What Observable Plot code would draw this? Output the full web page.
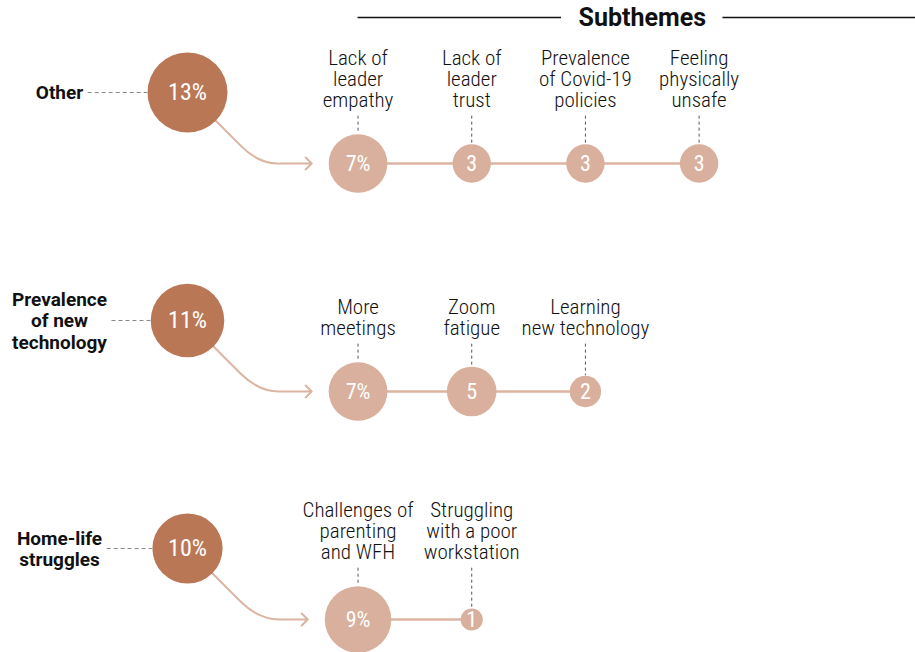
<!DOCTYPE html>
<html>
<head>
<meta charset="utf-8">
<script src="https://cdn.jsdelivr.net/npm/d3@7"></script>
<script src="https://cdn.jsdelivr.net/npm/@observablehq/plot@0.6"></script>
<style>
  html, body { margin: 0; padding: 0; background: #fff; }
  #chart svg { display: block; }
  #chart g[aria-description="cond"] { font-stretch: condensed; }
</style>
</head>
<body>
<div id="chart"></div>
<script>
// ---------- data ----------
const themes = ["Other", "Prevalence of new technology", "Home-life struggles"];
const themeLabels = ["Other", "Prevalence\nof new\ntechnology", "Home-life\nstruggles"];
const themeValues = [13, 11, 10];

const subthemeLabels = [
  ["Lack of\nleader\nempathy", "Lack of\nleader\ntrust", "Prevalence\nof Covid-19\npolicies", "Feeling\nphysically\nunsafe"],
  ["More\nmeetings", "Zoom\nfatigue", "Learning\nnew technology"],
  ["Challenges of\nparenting\nand WFH", "Struggling\nwith a poor\nworkstation"]
];
const subthemeValues = [
  [7, 3, 3, 3],
  [7, 5, 2],
  [9, 1]
];
const headerTitle = "Subthemes";

// ---------- layout helpers ----------
const FONT = 'Roboto, "Open Sans", sans-serif';
const W = 915, H = 652;
const xDomain = [0, 4.5], xRange = [187, 698.6];
const yDomain = [0, 2], yRange = [92, 548];
const rDomain = [0, 13], rRange = [0, 40];
const xPx = d3.scaleLinear(xDomain, xRange);
const yPx = d3.scaleLinear(yDomain, yRange);
const rPx = d3.scaleSqrt(rDomain, rRange);
const ux = px => xPx.invert(px) - xPx.invert(0);
const uy = px => yPx.invert(px) - yPx.invert(0);

const SUB_COL0 = 1.5;          // first subtheme column
const SUB_DY = uy(71);         // subtheme row offset below main circle
const LABEL_COL = xPx.invert(59);

const ctx = document.createElement("canvas").getContext("2d");
function halfWidth(label, font) {
  ctx.font = font;
  return d3.max(label.split("\n"), s => ctx.measureText(s).width) / 2;
}

const mains = themes.map((t, i) => ({
  theme: t, label: themeLabels[i], value: themeValues[i], row: i, col: 0,
  text: themeValues[i] + "%"
}));

const subs = [];
subthemeLabels.forEach((labels, i) => {
  const rMax = rPx(d3.max(subthemeValues[i]));
  labels.forEach((l, j) => {
    const v = subthemeValues[i][j];
    const y = i + SUB_DY;
    const labelY = y - uy(rMax + 27);
    subs.push({row: i, col: SUB_COL0 + j, y, labelY, label: l, value: v, text: j === 0 ? v + "%" : String(v)});
  });
});

const connectors = subthemeLabels.map((labels, i) => ({
  y: i + SUB_DY, x1: SUB_COL0, x2: SUB_COL0 + labels.length - 1
}));

const themeDashes = mains.map(d => ({
  y: d.row,
  x1: LABEL_COL + ux(halfWidth(d.label, `bold 19px ${FONT}`) + 5),
  x2: d.col - ux(rPx(d.value))
}));

const arrows = mains.map((d, i) => {
  const r = rPx(d.value);
  const first = subthemeValues[i][0];
  return {
    x1: d.col + ux(r * Math.SQRT1_2),
    y1: d.row + uy(r * Math.SQRT1_2),
    x2: SUB_COL0 - ux(rPx(first) + 17),
    y2: d.row + SUB_DY
  };
});

const subDashes = subs.map(d => ({
  x: d.col,
  y1: d.labelY + uy(9),
  y2: d.y - uy(rPx(d.value))
}));

// header
const titleCol = 4.0;
const titleHalf = halfWidth(headerTitle, `bold 25px ${FONT}`);
const headerY = yPx.invert(17);
const headerRules = [
  {x1: SUB_COL0, x2: titleCol - ux(titleHalf + 17)},
  {x1: titleCol + ux(titleHalf + 17), x2: xPx.invert(W)}
];

function arrowCurve(context) {
  let pts;
  return {
    areaStart() {}, areaEnd() {},
    lineStart() { pts = []; },
    point(x, y) { pts.push([+x, +y]); },
    lineEnd() {
      const [a, b] = pts;
      const dy = b[1] - a[1];
      context.moveTo(a[0], a[1]);
      context.lineTo(a[0] + dy * 0.6, a[1] + dy * 0.6);
      context.quadraticCurveTo(a[0] + dy, b[1], a[0] + dy * 1.45, b[1]);
      context.lineTo(b[0], b[1]);
      context.moveTo(b[0] - 6, b[1] - 6);
      context.lineTo(b[0], b[1]);
      context.lineTo(b[0] - 6, b[1] + 6);
    }
  };
}

const MAIN = "#b97756";
const SUB = "#d9b09d";
const LINK = "#dcb4a2";

const chart = Plot.plot({
  width: W,
  height: H,
  margin: 0,
  x: {domain: xDomain, range: xRange, axis: null},
  y: {domain: yDomain, range: yRange, axis: null},
  r: {type: "sqrt", domain: rDomain, range: rRange},
  style: {background: "#fff", fontFamily: FONT},
  marks: [
    // header
    Plot.ruleY(headerRules, {y: headerY, x1: "x1", x2: "x2", stroke: "#111", strokeWidth: 1.6}),
    Plot.text([headerTitle], {x: titleCol, y: headerY, text: d => d, fontWeight: "bold", fontSize: 25, fill: "#111"}),
    // theme dashes
    Plot.ruleY(themeDashes, {y: "y", x1: "x1", x2: "x2", stroke: "#888", strokeDasharray: "4,3", strokeWidth: 1}),
    // subtheme connectors
    Plot.ruleY(connectors, {y: "y", x1: "x1", x2: "x2", stroke: LINK, strokeWidth: 2.5}),
    // subtheme dashes
    Plot.ruleX(subDashes, {x: "x", y1: "y1", y2: "y2", stroke: "#555", strokeDasharray: "3,3", strokeWidth: 1}),
    // arrows
    Plot.link(arrows, {x1: "x1", y1: "y1", x2: "x2", y2: "y2", curve: arrowCurve, stroke: LINK, strokeWidth: 2, strokeLinecap: "round", strokeLinejoin: "round"}),
    // circles
    Plot.dot(mains, {x: "col", y: "row", r: "value", fill: MAIN, stroke: null}),
    Plot.dot(subs, {x: "col", y: "y", r: "value", fill: SUB, stroke: null}),
    // circle labels
    Plot.text(mains, {x: "col", y: "row", text: "text", fill: "#fff", fontSize: 24, ariaDescription: "cond"}),
    Plot.text(subs, {x: "col", y: "y", text: "text", fill: "#fff", fontSize: 22, ariaDescription: "cond"}),
    // theme labels
    Plot.text(mains, {x: LABEL_COL, y: "row", text: "label", fontWeight: "bold", fontSize: 19, lineHeight: 1.13, fill: "#111"}),
    // subtheme labels
    Plot.text(subs, {x: "col", y: "labelY", text: "label", lineAnchor: "bottom", fontSize: 21, fontWeight: 300, lineHeight: 1.0, fill: "#111", ariaDescription: "cond"})
  ]
});

chart.querySelectorAll('[aria-description="cond"]').forEach(g => { g.style.fontStretch = "condensed"; });
document.getElementById("chart").appendChild(chart);
</script>
</body>
</html>
